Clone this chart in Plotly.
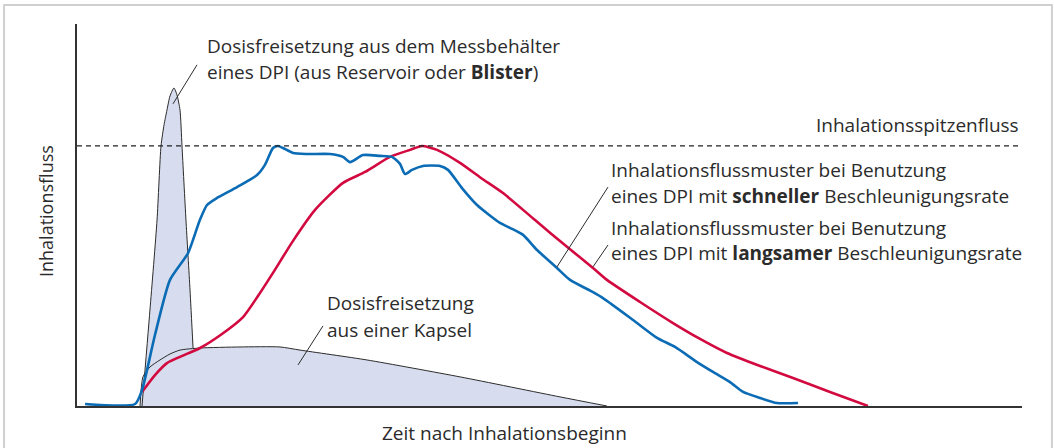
import plotly.graph_objects as go

# time axis 0..100, flow axis: peak inspiratory flow = 100
blue_t = [0.85, 6.14, 6.88, 8.25, 9.84, 11.75, 13.0, 13.76, 14.81, 16.93, 19.05, 19.89,
          20.74, 21.27, 21.8, 22.86, 24.34, 26.77, 28.15, 28.89, 30.26, 32.06, 33.33,
          34.18, 34.71, 35.45, 36.61, 38.41, 39.26, 40.74, 42.33, 44.76, 45.82, 47.2,
          48.68, 50.79, 52.17, 54.6, 55.66, 58.84, 61.38, 63.28, 65.61, 67.3, 69.1,
          70.48, 72.28, 74.07, 76.3]
blue_f = [0.77, 0.77, 6.15, 27.3, 48.5, 58.8, 71.5, 77.3, 80.0, 84.2, 88.8, 92.7,
          99.2, 100, 99.2, 97.3, 96.9, 96.9, 95.8, 93.8, 96.5, 96.2, 95.8,
          93.1, 89.2, 90.8, 92.3, 92.3, 90.8, 83.8, 77.3, 70.4, 68.5, 65.8,
          60.0, 53.1, 48.5, 43.8, 41.5, 33.1, 26.2, 22.7, 16.9, 13.1, 9.2,
          5.4, 3.1, 1.15, 1.15]

red_t = [6.88, 8.25, 9.52, 13.02, 15.34, 17.57, 19.15, 20.74, 22.86, 25.19, 28.15,
         30.48, 33.12, 35.24, 36.51, 38.1, 40.53, 42.75, 45.08, 48.47, 51.85, 54.6,
         56.08, 59.58, 63.07, 65.93, 68.78, 72.28, 75.77, 79.68, 83.7]
red_f = [5.4, 11.9, 16.5, 22.3, 27.7, 34.2, 42.3, 51.2, 63.5, 75.4, 85.8,
         90.0, 95.8, 98.5, 100, 98.5, 93.5, 87.7, 81.9, 71.5, 61.2, 53.1,
         48.5, 40.0, 31.9, 25.8, 20.4, 15.4, 10.8, 5.4, 0]

blister_t = [6.88, 7.72, 8.47, 8.89, 9.21, 9.52, 9.84, 10.26, 10.58, 10.9, 11.11,
             11.53, 11.96, 12.28]
blister_f = [0, 36.9, 71.5, 100, 108.1, 113.8, 119.2, 122.3, 119.6, 113.8, 100,
             71.5, 44.6, 22.3]

capsule_t = [6.67, 6.98, 7.72, 8.78, 9.84, 10.9, 13.02, 17.25, 21.48, 23.6, 30.69,
             40.53, 51.11, 56.08]
capsule_f = [0, 11.2, 15.0, 17.7, 20.0, 21.5, 22.3, 22.7, 22.7, 21.5, 17.7,
             11.2, 3.5, 0]

peak_flow = 100

BLUE = "#0b6cb5"
RED = "#d20a40"
FILL = "#d7ddee"
INK = "#2b2b2b"
FONT = "Open Sans"
FS = 19

fig = go.Figure()

# filled dose-release areas (fill only)
for t, f in [(capsule_t, capsule_f), (blister_t, blister_f)]:
    fig.add_trace(go.Scatter(x=t, y=f, mode="lines", fill="tozeroy",
                             fillcolor=FILL, line=dict(width=0, shape="spline", smoothing=0.6),
                             hoverinfo="skip"))
# outlines
for t, f in [(capsule_t, capsule_f), (blister_t, blister_f)]:
    fig.add_trace(go.Scatter(x=t, y=f, mode="lines",
                             line=dict(color=INK, width=1, shape="spline", smoothing=0.6),
                             hoverinfo="skip"))

fig.add_trace(go.Scatter(x=red_t, y=red_f, mode="lines",
                         line=dict(color=RED, width=2.6, shape="spline", smoothing=0.6)))
fig.add_trace(go.Scatter(x=blue_t, y=blue_f, mode="lines",
                         line=dict(color=BLUE, width=2.6, shape="spline", smoothing=0.6)))

# peak flow reference line
fig.add_shape(type="line", xref="x", yref="y", x0=0, x1=99.8, y0=peak_flow, y1=peak_flow,
              line=dict(color="#222222", width=1.2, dash="5px,4px"))

# leader lines
leaders = [(12.7, 131.2, 10.16, 116.2), (56.19, 84.2, 50.79, 53.5),
           (56.19, 61.9, 54.6, 53.5), (26.03, 30.8, 23.39, 15.8)]
for x0, y0, x1, y1 in leaders:
    fig.add_shape(type="line", xref="x", yref="y", x0=x0, y0=y0, x1=x1, y1=y1,
                  line=dict(color=INK, width=1))

# outer frame
fig.add_shape(type="rect", xref="paper", yref="paper", x0=-0.0772, x1=1.0317,
              y0=-0.13, y1=1.0497, line=dict(color="#d0d0d0", width=2), layer="below")


def label(text, x, y, anchor="left"):
    fig.add_annotation(text=text, x=x, y=y, xref="x", yref="y", showarrow=False,
                       xanchor=anchor, yanchor="middle",
                       font=dict(family=FONT, size=FS, color=INK))


label("Dosisfreisetzung aus dem Messbehälter", 13.54, 138.5)
label("eines DPI (aus Reservoir oder <b>Blister</b>)", 13.54, 128.5)
label("Inhalationsspitzenfluss", 99.9, 108.1, anchor="right")
label("Inhalationsflussmuster bei Benutzung", 56.3, 90.8)
label("eines DPI mit <b>schneller</b> Beschleunigungsrate", 56.3, 80.8)
label("Inhalationsflussmuster bei Benutzung", 56.3, 68.5)
label("eines DPI mit <b>langsamer</b> Beschleunigungsrate", 56.3, 58.8)
label("Dosisfreisetzung", 26.24, 39.6)
label("aus einer Kapsel", 26.24, 29.2)

fig.add_annotation(text="Zeit nach Inhalationsbeginn", x=0.4529, y=-0.0707,
                   xref="paper", yref="paper", showarrow=False,
                   xanchor="center", yanchor="middle",
                   font=dict(family=FONT, size=FS, color=INK))
fig.add_annotation(text="Inhalationsfluss", x=-0.0328, y=0.5105, textangle=-90,
                   xref="paper", yref="paper", showarrow=False,
                   xanchor="center", yanchor="middle",
                   font=dict(family=FONT, size=18, color=INK))

fig.update_xaxes(range=[0, 100], showline=True, linecolor="#333333", linewidth=1.6,
                 showgrid=False, zeroline=False, showticklabels=False, ticks="")
fig.update_yaxes(range=[0, 146.9], showline=True, linecolor="#333333", linewidth=1.6,
                 showgrid=False, zeroline=False, showticklabels=False, ticks="")
fig.update_layout(width=1054, height=448, showlegend=False,
                  margin=dict(l=77, r=32, t=24, b=42),
                  paper_bgcolor="white", plot_bgcolor="white")

# drop the browser's default body margin so the figure fills the window
fig.write_html("out.html", config={"displayModeBar": False},
               post_script="document.body.style.margin='0';")
